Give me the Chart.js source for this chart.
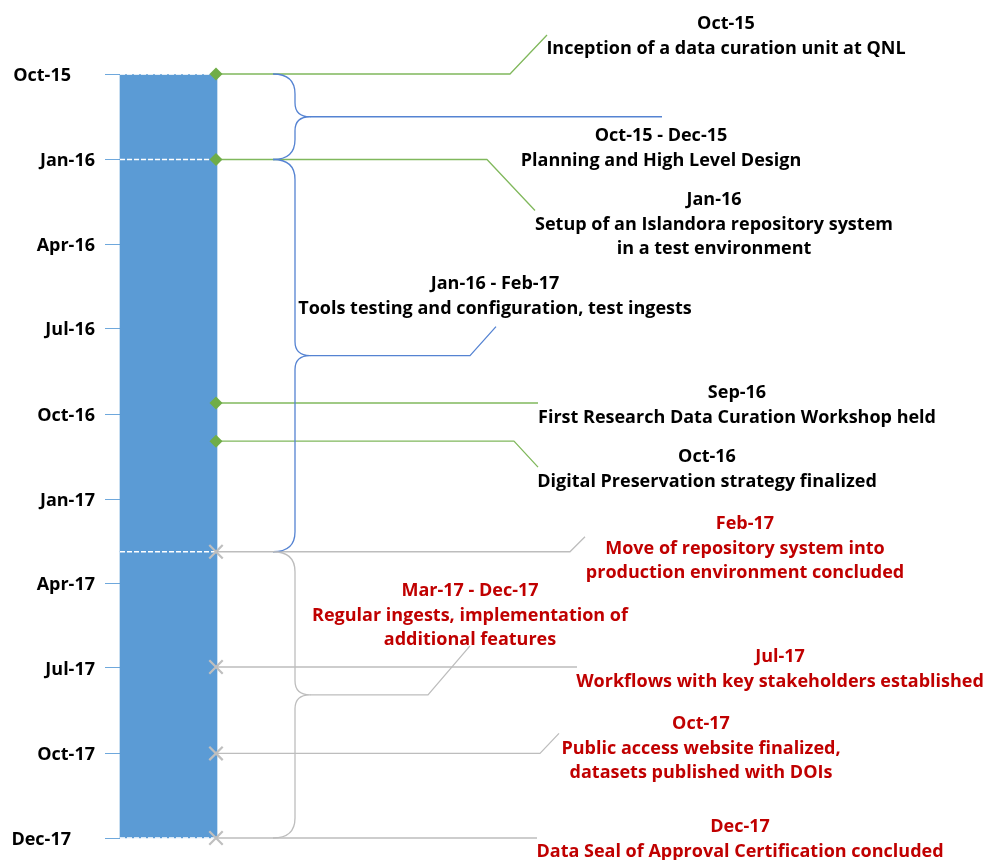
<!DOCTYPE html>
<html>
<head>
<meta charset="utf-8">
<script src="https://cdn.jsdelivr.net/npm/chart.js@4.4.0/dist/chart.umd.min.js"></script>
<style>
html,body{margin:0;padding:0;background:#fff;overflow:hidden;}
#wrap{width:986px;height:860px;position:relative;overflow:hidden;}
#c{display:block;}
</style>
</head>
<body>
<div id="wrap"><canvas id="c"></canvas></div>
<script>
// ---------------- DATA ----------------
// time unit: days since 1 Oct 2015
const tickLabels = ['Oct-15','Jan-16','Apr-16','Jul-16','Oct-16','Jan-17','Apr-17','Jul-17','Oct-17','Dec-17'];
const tickDays   = [0, 92, 183, 274, 366, 458, 548, 639, 731, 822];

const phaseStart  = [0, 92, 514];
const phaseEnd    = [92, 514, 822];
const phaseDates  = ['Oct-15 - Dec-15', 'Jan-16 - Feb-17', 'Mar-17 - Dec-17'];
const phaseText   = [
  ['Planning and High Level Design'],
  ['Tools testing and configuration, test ingests'],
  ['Regular ingests, implementation of', 'additional features']
];
const phaseStatus = ['done', 'done', 'planned'];

const milestoneDays   = [0, 92, 354, 395, 514, 638, 731, 822];
const milestoneDates  = ['Oct-15','Jan-16','Sep-16','Oct-16','Feb-17','Jul-17','Oct-17','Dec-17'];
const milestoneText   = [
  ['Inception of a data curation unit at QNL'],
  ['Setup of an Islandora repository system', 'in a test environment'],
  ['First Research Data Curation Workshop held'],
  ['Digital Preservation strategy finalized'],
  ['Move of repository system into', 'production environment concluded'],
  ['Workflows with key stakeholders established'],
  ['Public access website finalized,', 'datasets published with DOIs'],
  ['Data Seal of Approval Certification concluded']
];
const milestoneStatus = ['done','done','done','done','planned','planned','planned','planned'];

// ---------------- LAYOUT / STYLE ----------------
const L = {
  barLeft: 120, barRight: 217, markerX: 216,
  braceX0: 273, braceX1: 295, braceTip: 310, braceR: 20, braceR2: 14,
  headGap: 25, lineGap: 23.5, textDy: 1.5,
  font: 'bold 18px "Open Sans"'
};
// per milestone: text centre x, header offset from marker y, elbow x, diagonal end (x, dy)
const msLayout = [
  {cx: 726, dy: -52, elbow: 510, ex: 547, ey: -39},
  {cx: 714, dy:  39, elbow: 487, ex: 535, ey:  51},
  {cx: 737, dy: -12, elbow: 538, ex: null, ey: 0},
  {cx: 707, dy:  14, elbow: 514, ex: 538, ey:  26},
  {cx: 745, dy: -29, elbow: 570, ex: 585, ey: -15},
  {cx: 780, dy: -12, elbow: 577, ex: null, ey: 0},
  {cx: 701, dy: -31, elbow: 540, ex: 559, ey: -20},
  {cx: 740, dy: -13, elbow: 537, ex: null, ey: 0}
];
const phLayout = [
  {cx: 661, dy:  18, elbow: 662, ex: null, ey: 0},
  {cx: 495, dy: -73, elbow: 470, ex: 496, ey: -29},
  {cx: 470, dy: -105, elbow: 428, ex: 470, ey: -49}
];
const C = {
  bar: '#5B9BD5', green: '#70AD47', greenLine: '#80B85C', blue: '#5583D2',
  grey: '#BDBDBD', cross: '#BFBFBF', red: '#C00000', black: '#000000', tick: '#6FA8DC'
};

// ---------------- PLUGIN ----------------
const annotations = {
  id: 'annotations',
  beforeDatasetsDraw(chart) {
    const ctx = chart.ctx, xs = chart.scales.x, ys = chart.scales.y;
    const X = v => xs.getPixelForValue(v);
    ctx.save();
    ctx.lineJoin = 'round';
    // milestone leader lines
    milestoneDays.forEach((d, i) => {
      const y = ys.getPixelForValue(d), m = msLayout[i];
      ctx.beginPath();
      ctx.strokeStyle = milestoneStatus[i] === 'done' ? C.greenLine : C.grey;
      ctx.lineWidth = 1.3;
      ctx.moveTo(X(L.markerX), y);
      ctx.lineTo(X(m.elbow), y);
      if (m.ex !== null) ctx.lineTo(X(m.ex), y + m.ey);
      ctx.stroke();
    });
    // phase braces
    phaseStart.forEach((s, i) => {
      const y0 = ys.getPixelForValue(s), y1 = ys.getPixelForValue(phaseEnd[i]);
      const ym = (y0 + y1) / 2, p = phLayout[i];
      const a = X(L.braceX0), b = X(L.braceX1), t = X(L.braceTip);
      ctx.beginPath();
      ctx.strokeStyle = phaseStatus[i] === 'done' ? C.blue : C.grey;
      ctx.lineWidth = 1.3;
      ctx.moveTo(a, y0);
      ctx.quadraticCurveTo(b, y0, b, y0 + L.braceR);
      ctx.lineTo(b, ym - L.braceR2);
      ctx.quadraticCurveTo(b, ym, t, ym);
      ctx.quadraticCurveTo(b, ym, b, ym + L.braceR2);
      ctx.lineTo(b, y1 - L.braceR);
      ctx.quadraticCurveTo(b, y1, a, y1);
      ctx.stroke();
      ctx.beginPath();
      ctx.moveTo(t, ym);
      ctx.lineTo(X(p.elbow), ym);
      if (p.ex !== null) ctx.lineTo(X(p.ex), ym + p.ey);
      ctx.stroke();
    });
    ctx.restore();
  },
  afterDraw(chart) {
    const ctx = chart.ctx, xs = chart.scales.x, ys = chart.scales.y;
    const X = v => xs.getPixelForValue(v);
    ctx.save();
    ctx.font = L.font;
    ctx.textBaseline = 'middle';
    // y-axis labels
    ctx.textAlign = 'right';
    ctx.fillStyle = C.black;
    tickLabels.forEach((lab, i) => {
      const edge = (i === 0 || i === tickLabels.length - 1);
      ctx.fillText(lab, edge ? 71 : 95, ys.getPixelForValue(tickDays[i]) + L.textDy);
    });
    ctx.textAlign = 'center';
    const block = (cx, y, head, lines, color) => {
      ctx.fillStyle = color;
      ctx.fillText(head, cx, y + L.textDy);
      lines.forEach((ln, k) => ctx.fillText(ln, cx, y + L.textDy + L.headGap + k * L.lineGap));
    };
    milestoneDays.forEach((d, i) => {
      const y = ys.getPixelForValue(d), m = msLayout[i];
      block(X(m.cx), y + m.dy, milestoneDates[i], milestoneText[i],
            milestoneStatus[i] === 'done' ? C.black : C.red);
    });
    phaseStart.forEach((s, i) => {
      const ym = (ys.getPixelForValue(s) + ys.getPixelForValue(phaseEnd[i])) / 2, p = phLayout[i];
      block(X(p.cx), ym + p.dy, phaseDates[i], phaseText[i],
            phaseStatus[i] === 'done' ? C.black : C.red);
    });
    ctx.restore();
  }
};

// ---------------- CHART ----------------
const barCenter = (L.barLeft + L.barRight) / 2;
const boundaries = phaseStart.concat([phaseEnd[phaseEnd.length - 1]]);

const datasets = [
  {
    type: 'bar',
    data: phaseStart.map((s, i) => ({x: barCenter, y: [s, phaseEnd[i]]})),
    backgroundColor: C.bar,
    borderWidth: 0,
    barThickness: L.barRight - L.barLeft,
    order: 5,
    clip: false
  }
];
boundaries.forEach(d => datasets.push({
  type: 'line',
  data: [{x: L.barLeft, y: d}, {x: L.markerX, y: d}],
  borderColor: '#FFFFFF', borderWidth: 1.5, borderDash: [5, 2],
  pointRadius: 0, order: 3, clip: false
}));
datasets.push({
  type: 'scatter',
  data: milestoneDays.filter((d, i) => milestoneStatus[i] === 'done').map(d => ({x: L.markerX, y: d})),
  pointStyle: 'rectRot', pointRadius: 6.5, backgroundColor: C.green, borderColor: C.green, borderWidth: 0,
  order: 1, clip: false
});
datasets.push({
  type: 'scatter',
  data: milestoneDays.filter((d, i) => milestoneStatus[i] !== 'done').map(d => ({x: L.markerX, y: d})),
  pointStyle: 'crossRot', pointRadius: 9.5, borderColor: C.cross, borderWidth: 2.2,
  order: 1, clip: false
});

new Chart(document.getElementById('c'), {
  type: 'scatter',
  data: {datasets},
  options: {
    responsive: true,
    maintainAspectRatio: false,
    animation: false,
    events: [],
    layout: {autoPadding: false, padding: {top: 74, bottom: 22, left: 0, right: 0}},
    plugins: {legend: {display: false}, tooltip: {enabled: false}},
    scales: {
      x: {type: 'linear', display: false, min: 120, max: 986, offset: false, grid: {offset: false}},
      y: {
        type: 'linear', min: 0, max: 822, reverse: true, offset: false,
        afterBuildTicks: s => { s.ticks = tickDays.map(v => ({value: v})); },
        afterFit: s => { s.width = 120; },
        ticks: {display: false},
        grid: {drawOnChartArea: false, drawTicks: true, tickLength: 15, color: C.tick, tickColor: C.tick, lineWidth: 1, offset: false},
        border: {display: false}
      }
    }
  },
  plugins: [annotations]
});
</script>
</body>
</html>
